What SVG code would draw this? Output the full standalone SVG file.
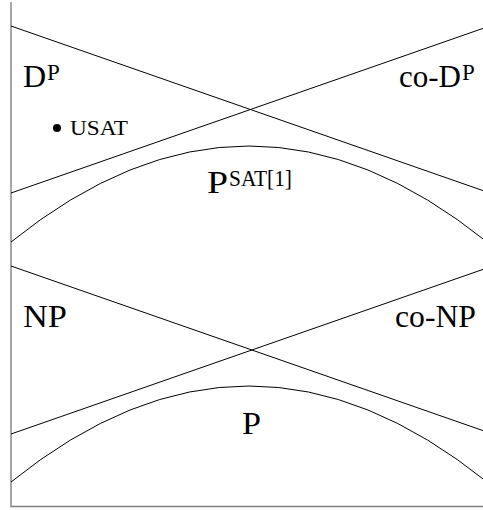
<svg xmlns="http://www.w3.org/2000/svg" width="483" height="510" viewBox="0 0 483 510">
<style>
.ax{stroke:#808080;stroke-width:1.4;fill:none}
.ln{stroke:#000;stroke-width:1;fill:none}
.t{font-family:"Liberation Serif","Times New Roman",serif;font-size:32px;fill:#000}
.s{font-family:"Liberation Serif","Times New Roman",serif;font-size:23px;fill:#000}
.u{font-family:"Liberation Serif","Times New Roman",serif;font-size:20px;fill:#000}
</style>
<rect width="483" height="510" fill="#fff"/>
<g id="axes">
<line class="ax" x1="11" y1="2" x2="11" y2="506.5"/>
<line class="ax" x1="10.3" y1="506.5" x2="483" y2="506.5"/>
</g>
<g id="connectors">
<line class="ln" x1="11" y1="26" x2="487" y2="192"/>
<line class="ln" x1="11" y1="193" x2="487" y2="27"/>
<path class="ln" d="M11,242 Q249,50 487,242"/>
<line class="ln" x1="11" y1="266" x2="487" y2="432"/>
<line class="ln" x1="11" y1="434" x2="487" y2="268"/>
<path class="ln" d="M11,482 Q249,290 487,482"/>
</g>
<g id="DP"><text class="t" x="23" y="87">D</text><text class="s" x="47" y="80">P</text></g>
<g id="USAT"><circle cx="57" cy="128" r="4"/><text class="u" x="70" y="135" textLength="58" lengthAdjust="spacingAndGlyphs">USAT</text></g>
<g id="coDP"><text class="t" x="399" y="87" textLength="62" lengthAdjust="spacingAndGlyphs">co-D</text><text class="s" x="462" y="80">P</text></g>
<g id="PSAT"><text class="t" x="207" y="193" textLength="21" lengthAdjust="spacingAndGlyphs">P</text><text class="s" x="229" y="186" textLength="63" lengthAdjust="spacingAndGlyphs">SAT[1]</text></g>
<g id="NP"><text class="t" x="23" y="327" textLength="44" lengthAdjust="spacingAndGlyphs">NP</text></g>
<g id="coNP"><text class="t" x="395" y="327" textLength="81" lengthAdjust="spacingAndGlyphs">co-NP</text></g>
<g id="P"><text class="t" x="242" y="434" textLength="19" lengthAdjust="spacingAndGlyphs">P</text></g>
</svg>
